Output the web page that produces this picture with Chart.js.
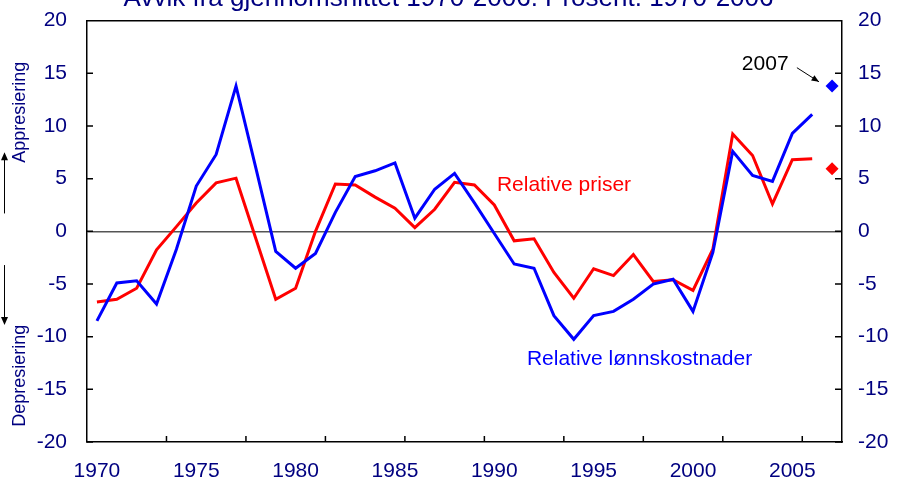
<!DOCTYPE html>
<html>
<head>
<meta charset="utf-8">
<script src="https://cdn.jsdelivr.net/npm/chart.js@4/dist/chart.umd.min.js"></script>
<style>
  body { margin: 0; background: #fff; }
  #wrap { width: 897px; height: 486px; overflow: hidden; }
  #chart { display: block; margin-top: -17px; }
</style>
</head>
<body>
<div id="wrap"><canvas id="chart" width="897" height="503"></canvas></div>
<script>
var years = ['1970', '1971', '1972', '1973', '1974', '1975', '1976', '1977', '1978', '1979',
             '1980', '1981', '1982', '1983', '1984', '1985', '1986', '1987', '1988', '1989',
             '1990', '1991', '1992', '1993', '1994', '1995', '1996', '1997', '1998', '1999',
             '2000', '2001', '2002', '2003', '2004', '2005', '2006', '2007'];

// Relative lønnskostnader (blue), 1970-2006
var lonn = [-8.5, -4.9, -4.7, -6.9, -1.7, 4.3, 7.3, 13.8, 6.0, -1.9,
            -3.5, -2.1, 1.8, 5.2, 5.75, 6.5, 1.25, 4.0, 5.5, 2.7,
            -0.2, -3.1, -3.5, -8.0, -10.25, -8.0, -7.6, -6.45, -5.0, -4.55,
            -7.6, -2.0, 7.6, 5.3, 4.75, 9.3, 11.1, null];

// Relative priser (red), 1970-2006
var priser = [-6.7, -6.45, -5.4, -1.75, 0.45, 2.7, 4.6, 5.05, -0.7, -6.45,
              -5.4, 0.0, 4.5, 4.4, 3.25, 2.2, 0.35, 2.1, 4.65, 4.4,
              2.5, -0.9, -0.7, -3.9, -6.35, -3.55, -4.2, -2.2, -4.75, -4.6,
              -5.6, -1.7, 9.25, 7.2, 2.6, 6.8, 6.9, null];

// 2007 estimates (diamonds)
var lonn2007 = 13.8;
var priser2007 = 5.95;

var yTicks = [-20, -15, -10, -5, 0, 5, 10, 15, 20];

var FONT = "'Liberation Sans', Arial, sans-serif";
var NAVY = '#000080';

// inward tick marks, top frame line and the text notes
var extras = {
  id: 'extras',
  beforeDatasetsDraw: function(chart) {
    var ctx = chart.ctx;
    var a = chart.chartArea;
    var xs = chart.scales.x, yl = chart.scales.y, yr = chart.scales.y2;
    ctx.save();
    ctx.strokeStyle = '#000';
    ctx.lineWidth = 1.5;
    ctx.beginPath();
    ctx.moveTo(a.left, a.top);
    ctx.lineTo(a.right, a.top);
    yTicks.forEach(function(v) {
      var py = yl.getPixelForValue(v);
      ctx.moveTo(a.left, py);
      ctx.lineTo(a.left + 6, py);
      py = yr.getPixelForValue(v);
      ctx.moveTo(a.right, py);
      ctx.lineTo(a.right - 7, py);
    });
    for (var k = 4; k < years.length; k += 4) {
      var px = xs.getPixelForValue(k - 0.5);
      ctx.moveTo(px, a.bottom);
      ctx.lineTo(px, a.bottom - 6);
    }
    ctx.stroke();
    ctx.restore();
  },
  afterDraw: function(chart) {
    var ctx = chart.ctx;
    var xs = chart.scales.x, ys = chart.scales.y;
    ctx.save();
    ctx.font = '21px ' + FONT;
    ctx.textAlign = 'left';
    ctx.textBaseline = 'middle';
    ctx.fillStyle = '#ff0000';
    ctx.fillText('Relative priser', xs.getPixelForValue(20.13), ys.getPixelForValue(4.42));
    ctx.fillStyle = '#0000ff';
    ctx.fillText('Relative lønnskostnader', xs.getPixelForValue(21.64), ys.getPixelForValue(-12.17));
    ctx.fillStyle = '#000';
    ctx.fillText('2007', xs.getPixelForValue(32.46), ys.getPixelForValue(15.87));

    // arrow to the 2007 points
    var x1 = xs.getPixelForValue(35.23), y1 = ys.getPixelForValue(15.54);
    var x2 = xs.getPixelForValue(36.34), y2 = ys.getPixelForValue(14.2);
    var ang = Math.atan2(y2 - y1, x2 - x1);
    ctx.strokeStyle = '#000';
    ctx.lineWidth = 1;
    ctx.beginPath();
    ctx.moveTo(x1, y1);
    ctx.lineTo(x2, y2);
    ctx.stroke();
    ctx.beginPath();
    ctx.moveTo(x2, y2);
    ctx.lineTo(x2 - 8 * Math.cos(ang - 0.4), y2 - 8 * Math.sin(ang - 0.4));
    ctx.lineTo(x2 - 8 * Math.cos(ang + 0.4), y2 - 8 * Math.sin(ang + 0.4));
    ctx.closePath();
    ctx.fillStyle = '#000';
    ctx.fill();

    // Appresiering / Depresiering at the left edge
    ctx.font = '18px ' + FONT;
    ctx.fillStyle = NAVY;
    ctx.textAlign = 'center';
    ctx.save();
    ctx.translate(20, ys.getPixelForValue(11.3));
    ctx.rotate(-Math.PI / 2);
    ctx.fillText('Appresiering', 0, 0);
    ctx.restore();
    ctx.save();
    ctx.translate(20, ys.getPixelForValue(-13.7));
    ctx.rotate(-Math.PI / 2);
    ctx.fillText('Depresiering', 0, 0);
    ctx.restore();

    // up / down arrows
    var ax = 4.5;
    var upTop = ys.getPixelForValue(7.5), upBot = ys.getPixelForValue(1.7);
    var dnTop = ys.getPixelForValue(-3.2), dnBot = ys.getPixelForValue(-8.9);
    ctx.strokeStyle = '#000';
    ctx.lineWidth = 1;
    ctx.beginPath();
    ctx.moveTo(ax, upBot); ctx.lineTo(ax, upTop + 6);
    ctx.moveTo(ax, dnTop); ctx.lineTo(ax, dnBot - 6);
    ctx.stroke();
    ctx.fillStyle = '#000';
    ctx.beginPath();
    ctx.moveTo(ax, upTop); ctx.lineTo(ax - 3.5, upTop + 8); ctx.lineTo(ax + 3.5, upTop + 8);
    ctx.closePath();
    ctx.moveTo(ax, dnBot); ctx.lineTo(ax - 3.5, dnBot - 8); ctx.lineTo(ax + 3.5, dnBot - 8);
    ctx.closePath();
    ctx.fill();
    ctx.restore();
  }
};

var ctx = document.getElementById('chart').getContext('2d');
var chart = new Chart(ctx, {
  type: 'line',
  data: {
    labels: years,
    datasets: [{
      label: 'Relative lønnskostnader',
      data: lonn,
      borderColor: '#0000ff',
      borderWidth: 3,
      pointRadius: 0,
      tension: 0,
      yAxisID: 'y'
    }, {
      label: 'Relative priser',
      data: priser,
      borderColor: '#ff0000',
      borderWidth: 3,
      pointRadius: 0,
      tension: 0,
      yAxisID: 'y'
    }, {
      label: 'Lønnskostnader 2007',
      data: [{ x: '2007', y: lonn2007 }],
      showLine: false,
      pointStyle: 'rectRot',
      pointRadius: 6.5,
      backgroundColor: '#0000ff',
      borderWidth: 0,
      yAxisID: 'y'
    }, {
      label: 'Priser 2007',
      data: [{ x: '2007', y: priser2007 }],
      showLine: false,
      pointStyle: 'rectRot',
      pointRadius: 6.5,
      backgroundColor: '#ff0000',
      borderWidth: 0,
      yAxisID: 'y'
    }]
  },
  options: {
    responsive: false,
    animation: false,
    layout: { padding: 0 },
    plugins: {
      legend: { display: false },
      tooltip: { enabled: false },
      title: {
        display: true,
        text: 'Avvik fra gjennomsnittet 1970-2006. Prosent. 1970-2006',
        color: NAVY,
        font: { family: FONT, size: 26, weight: 'normal' },
        padding: { top: 0, bottom: 6.5 }
      }
    },
    scales: {
      x: {
        type: 'category',
        offset: true,
        grid: { display: false, drawTicks: false },
        border: { display: true, color: '#000', width: 1.5 },
        ticks: {
          autoSkip: false,
          maxRotation: 0,
          color: NAVY,
          padding: 17,
          font: { family: FONT, size: 21 },
          callback: function(v, i) { return i % 5 === 0 ? years[i] : ''; }
        },
        afterFit: function(s) { s.height = 44; }
      },
      y: {
        position: 'left',
        min: -20, max: 20,
        grid: {
          drawTicks: false,
          lineWidth: 1.5,
          color: function(c) { return c.tick && c.tick.value === 0 ? '#555' : 'rgba(0,0,0,0)'; }
        },
        border: { display: true, color: '#000', width: 1.5 },
        ticks: {
          stepSize: 5,
          color: NAVY,
          padding: 20,
          font: { family: FONT, size: 21 }
        },
        afterFit: function(s) { s.width = 87; }
      },
      y2: {
        position: 'right',
        min: -20, max: 20,
        grid: { display: false, drawTicks: false },
        border: { display: true, color: '#000', width: 1.5 },
        ticks: {
          stepSize: 5,
          color: NAVY,
          padding: 16,
          font: { family: FONT, size: 21 }
        },
        afterFit: function(s) { s.width = 55; }
      }
    }
  },
  plugins: [extras]
});
</script>
</body>
</html>
